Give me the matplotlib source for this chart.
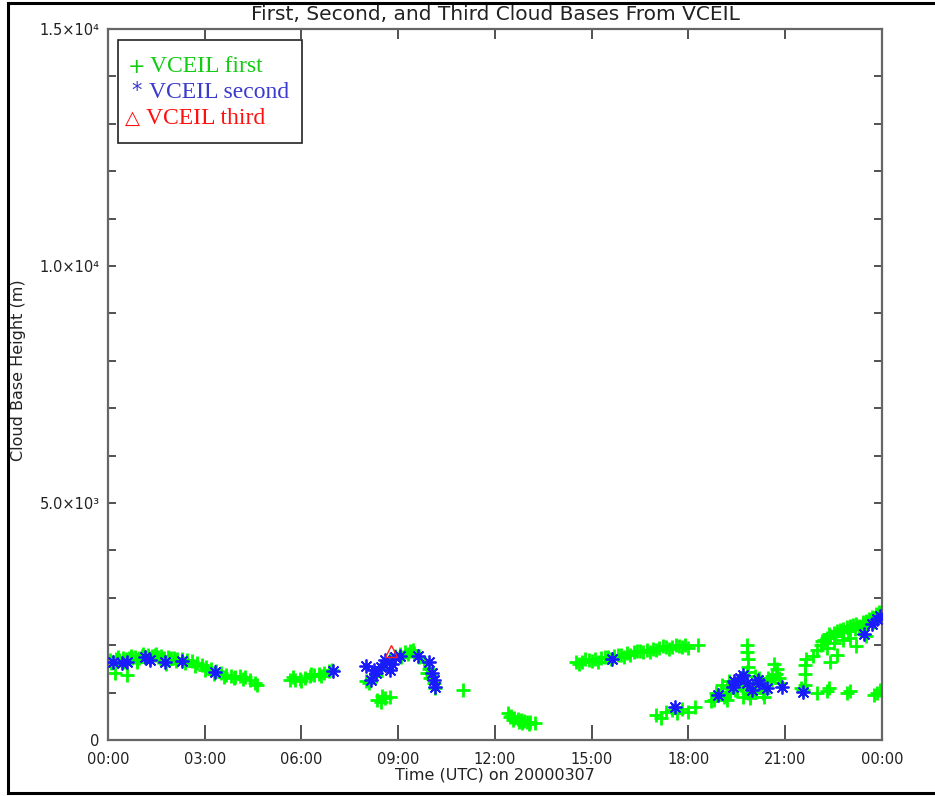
import matplotlib
matplotlib.use("Agg")
import matplotlib.pyplot as plt
from matplotlib.patches import Rectangle
from matplotlib.lines import Line2D

# First cloud base (hours UTC, metres)
first_hours = [
    0.05, 0.15, 0.25, 0.35, 0.45, 0.55, 0.65, 0.75, 0.85, 0.95, 1.05, 1.15, 1.25, 1.35,
    1.45, 1.55, 1.65, 1.75, 1.85, 1.95, 2.05, 2.15, 2.3, 2.45, 2.6, 2.75, 2.9, 3.05, 3.2,
    3.35, 3.5, 3.65, 3.8, 3.95, 4.1, 4.25, 4.4, 4.55, 4.62, 0.22, 0.59, 0.9, 1.8,
    0.1, 0.3, 0.5, 0.7, 0.9, 1.1, 1.3, 1.5, 1.7, 1.9, 2.1, 2.4, 2.7, 3.0, 3.3, 3.6, 3.9, 4.2,
    5.65, 5.8, 5.95, 6.1, 6.25, 6.4, 6.55, 6.7, 6.85, 6.95, 5.75, 6.0, 6.3, 6.6,
    8.0, 8.1, 8.3, 8.45, 8.6, 8.75, 8.9, 9.05, 9.2, 9.35, 9.5, 9.65, 9.8, 9.95, 10.05,
    10.1, 10.15, 8.35, 8.5, 8.6, 8.75, 8.45, 11.0, 9.1, 9.3, 9.45, 9.9, 10.0,
    12.4, 12.5, 12.6, 12.7, 12.8, 12.9, 13.0, 13.1, 13.25, 12.55, 12.85, 12.45, 12.75, 13.05,
    14.5, 14.7, 14.9, 15.1, 15.3, 15.5, 15.7, 15.9, 16.1, 16.3, 16.5, 16.7, 16.9, 17.1,
    17.3, 17.5, 17.7, 17.9, 18.3, 14.6, 15.2, 16.0, 16.8,
    14.8, 15.0, 15.4, 15.6, 15.8, 16.2, 16.4, 16.6, 17.0, 17.2, 17.4, 17.6, 17.8, 18.0,
    17.0, 17.15, 17.3, 17.5, 17.65, 17.8, 18.0, 18.2,
    18.7, 18.8, 18.9, 19.0, 19.1, 19.2, 19.3, 19.4, 19.5, 19.6, 19.7, 19.8, 19.9, 20.0,
    20.1, 20.2, 20.3, 20.4, 20.5, 20.6, 20.7, 20.75, 20.8, 20.85,
    18.85, 19.05, 19.25, 19.45, 19.65, 19.85, 20.05, 20.25, 20.45, 20.65,
    19.8, 19.82, 19.85, 19.83, 19.8, 19.2, 19.9, 20.35,
    21.5, 21.55, 21.6, 21.62, 21.6, 21.65, 21.85,
    22.0, 22.1, 22.2, 22.3, 22.4, 22.5, 22.6, 22.7, 22.8, 22.9, 23.0, 23.1, 23.2, 23.3,
    23.4, 23.5, 23.6, 23.7, 23.8, 23.9, 24.0, 22.3, 22.5, 22.8, 23.0, 23.2, 23.5, 22.6,
    22.15, 22.35, 22.55, 22.75, 22.95, 23.15, 23.35, 23.55, 23.75, 23.95,
    22.4, 22.0, 22.3, 22.35, 22.9, 23.0, 23.75, 23.85, 23.95,
]
first_height = [
    1690, 1650, 1700, 1680, 1720, 1700, 1740, 1720, 1760, 1740, 1780, 1760, 1800, 1770,
    1790, 1760, 1780, 1740, 1760, 1720, 1740, 1700, 1710, 1680, 1660, 1620, 1580, 1540, 1500,
    1450, 1420, 1380, 1350, 1330, 1360, 1320, 1270, 1200, 1160, 1420, 1370, 1650, 1600,
    1620, 1760, 1650, 1780, 1690, 1820, 1730, 1820, 1700, 1690, 1660, 1620, 1560, 1480, 1400, 1330, 1300, 1280,
    1270, 1260, 1290, 1300, 1340, 1370, 1390, 1420, 1450, 1470, 1330, 1240, 1400, 1350,
    1250, 1200, 1350, 1500, 1600, 1700, 1780, 1820, 1850, 1880, 1830, 1760, 1650, 1500, 1350,
    1200, 1100, 850, 930, 880, 900, 800, 1060, 1760, 1820, 1900, 1420, 1300,
    560, 500, 470, 450, 430, 400, 380, 390, 350, 420, 360, 480, 380, 330,
    1640, 1650, 1680, 1700, 1730, 1750, 1770, 1790, 1830, 1850, 1880, 1900, 1930, 1940,
    1960, 1970, 1980, 2000, 2000, 1600, 1650, 1760, 1850,
    1700, 1660, 1760, 1700, 1800, 1790, 1880, 1850, 1890, 1990, 1930, 2010, 1960, 1950,
    530, 470, 600, 640, 570, 650, 600, 700,
    820, 850, 950, 1000, 900, 1100, 1000, 1200, 1050, 1150, 900, 1100, 950, 1200,
    1050, 1300, 1000, 1150, 1250, 1350, 1400, 1500, 1300, 1200,
    1000, 1150, 1250, 1050, 1300, 1000, 1350, 1150, 1300, 1600,
    2000, 1850, 1700, 1550, 1430, 850, 880, 900,
    1100, 1050, 1150, 1400, 1580, 1700, 1780,
    1900, 2000, 2100, 2150, 2200, 2250, 2300, 2320, 2350, 2380, 2400, 2420, 2450, 2400,
    2500, 2520, 2550, 2600, 2650, 2700, 2750, 1950, 2050, 2100, 2150, 1980, 2200, 1800,
    2080, 2230, 2200, 2280, 2300, 2350, 2380, 2450, 2500, 2680,
    1650, 1000, 1030, 1100, 1000, 1030, 950, 1000, 1050,
]

# Second cloud base
second_hours = [0.16, 0.43, 0.59, 1.15, 1.30, 1.77, 2.29, 3.32, 6.98,
                8.0, 8.15, 8.3, 8.25, 8.45, 8.6, 8.75, 8.8, 8.9, 9.05, 9.6, 9.95, 10.05,
                10.1, 10.14, 15.63, 17.58,
                18.9, 19.38, 19.4, 19.6, 19.7, 19.8, 19.97, 20.16, 20.2, 20.43, 20.9,
                21.55, 23.45, 23.7, 23.85, 23.95]
second_height = [1646, 1625, 1646, 1751, 1688, 1646, 1667, 1435, 1450,
                 1570, 1270, 1420, 1480, 1550, 1680, 1480, 1600, 1750, 1770, 1770, 1650, 1420,
                 1270, 1118, 1709, 700,
                 950, 1120, 1250, 1310, 1370, 1200, 1055, 1270, 1200, 1100, 1120,
                 1010, 2230, 2450, 2560, 2620]

# Third cloud base
third_hours = [8.77]
third_height = [1880]

xtick_vals = [0, 3, 6, 9, 12, 15, 18, 21, 24]
xtick_labels = ['00:00', '03:00', '06:00', '09:00', '12:00', '15:00', '18:00', '21:00', '00:00']
ytick_vals = [0, 5000, 10000, 15000]
ytick_labels = ['0', '5.0\u00d710\u00b3', '1.0\u00d710\u2074', '1.5\u00d710\u2074']
yminor_vals = [1000, 2000, 3000, 4000, 6000, 7000, 8000, 9000, 11000, 12000, 13000, 14000]

W, H = 935, 796
fig = plt.figure(figsize=(W / 100, H / 100), dpi=100)
ax = fig.add_axes([108 / W, 1 - 740 / H, 774 / W, 711 / H])

ax.plot(first_hours, first_height, linestyle='none', marker='+', color='#00ff00',
        markersize=10.5, markeredgewidth=2.0, zorder=2)
ax.plot(second_hours, second_height, linestyle='none', marker=(8, 2, 0), color='#1a1aff',
        markersize=10, markeredgewidth=1.3, zorder=3)
ax.plot(third_hours, third_height, linestyle='none', marker='^', markerfacecolor='none',
        markeredgecolor='#ff2020', markersize=8, markeredgewidth=1.0, zorder=4)

ax.set_xlim(0, 24)
ax.set_ylim(0, 15000)
ax.set_xticks(xtick_vals)
ax.set_xticklabels(xtick_labels)
ax.set_yticks(ytick_vals)
ax.set_yticklabels(ytick_labels)
ax.set_yticks(yminor_vals, minor=True)

spine_col = '#666666'
for s in ax.spines.values():
    s.set_color(spine_col)
    s.set_linewidth(1.6)
ax.tick_params(axis='x', which='both', direction='in', length=11, width=1.2,
               color='#333333', labelsize=10.5, labelcolor='#222222', pad=9, top=False)
ax.tick_params(axis='y', which='both', direction='in', length=6, width=1.2,
               color='#333333', labelsize=10.5, labelcolor='#222222', pad=6, right=True)

top = ax.secondary_xaxis('top')
top.set_xticks(xtick_vals)
top.tick_params(direction='in', length=7, width=1.2, color='#333333', labeltop=False)
top.spines['top'].set_visible(False)

ax.set_xlabel('Time (UTC) on 20000307', fontsize=11.5, color='#222222')
ax.xaxis.set_label_coords(0.5, -0.038)
ax.set_ylabel('Cloud Base Height (m)', fontsize=11.5, color='#222222')
ax.yaxis.set_label_coords(-0.106, 0.52)
fig.text(495 / W, 1 - 15 / H, 'First, Second, and Third Cloud Bases From VCEIL',
         ha='center', va='center', fontsize=14.5, color='#222222')

# legend box drawn by hand
fig.add_artist(Rectangle((118 / W, 1 - 143 / H), 184 / W, 103 / H, facecolor='white',
                         edgecolor='#222222', linewidth=1.2, transform=fig.transFigure,
                         zorder=5))
leg_font = ['Liberation Serif', 'DejaVu Sans']
fig.text(128 / W, 1 - 67 / H, '+', color='#11cc11', fontsize=15, family=['DejaVu Sans'],
         va='center', zorder=6)
fig.text(150 / W, 1 - 67 / H, 'VCEIL first', color='#11cc11', fontsize=17, family=leg_font,
         va='center', zorder=6)
fig.text(131 / W, 1 - 91 / H, '*', color='#3a3acc', fontsize=15, family=['DejaVu Sans'],
         va='center', zorder=6)
fig.text(149 / W, 1 - 92 / H, 'VCEIL second', color='#3a3acc', fontsize=17, family=leg_font,
         va='center', zorder=6)
fig.text(125 / W, 1 - 118 / H, '\u25b3', color='#ff1010', fontsize=14, family=['DejaVu Sans'],
         va='center', zorder=6)
fig.text(146 / W, 1 - 118 / H, 'VCEIL third', color='#ff1010', fontsize=17, family=leg_font,
         va='center', zorder=6)

# outer frame
for xs, ys in [([8 / W, 8 / W], [1 - 3 / H, 1 - 793 / H]),
               ([8 / W, 1.0], [1 - 3 / H, 1 - 3 / H]),
               ([8 / W, 1.0], [1 - 793 / H, 1 - 793 / H])]:
    fig.add_artist(Line2D(xs, ys, color='black', linewidth=2.2, transform=fig.transFigure))

fig.savefig('out.png', dpi=100)
